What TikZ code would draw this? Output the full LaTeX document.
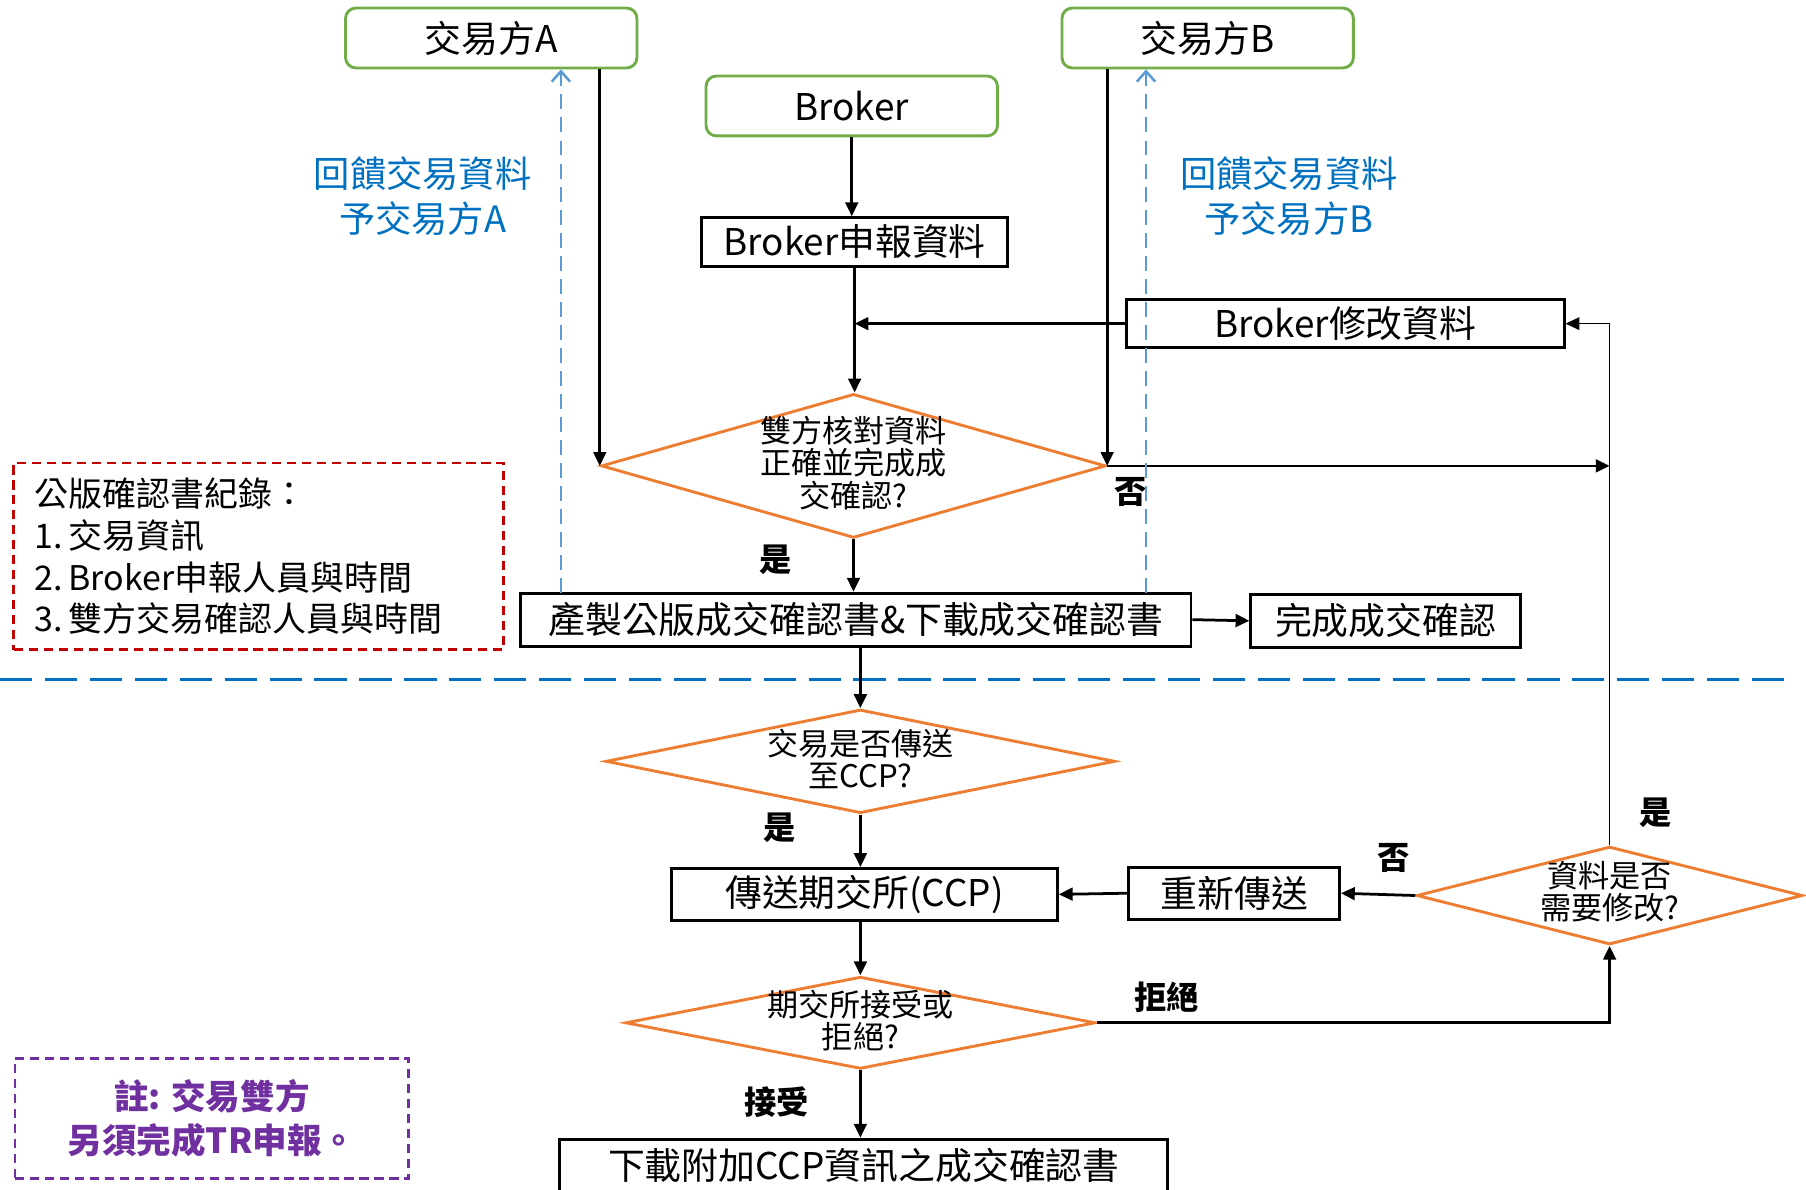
\documentclass[tikz,border=0pt]{standalone}
\usepackage{fontspec}
\setmainfont{Noto Sans CJK TC}
\usetikzlibrary{shapes.geometric,arrows.meta}

\definecolor{partygreen}{RGB}{112,173,71}
\definecolor{decorange}{RGB}{237,125,49}
\definecolor{fbblue}{RGB}{91,155,213}
\definecolor{fbtextblue}{RGB}{0,112,192}
\definecolor{recordred}{RGB}{192,0,0}
\definecolor{tippurple}{RGB}{112,48,160}

\begin{document}
\begin{tikzpicture}[x=1pt,y=-1pt,
    boxfont/.style={font=\fontsize{32}{38}\selectfont},
    party/.style={draw=partygreen,line width=2.5pt,rounded corners=9pt,
      minimum width=253pt,minimum height=52pt,inner sep=0pt,boxfont},
    stepbox/.style={draw,line width=2.5pt,inner sep=0pt,boxfont},
    decision/.style={diamond,draw=decorange,line width=2.5pt,inner sep=0pt},
    dtext/.style={align=center,font=\fontsize{27}{28}\selectfont},
    answer/.style={font=\bfseries\fontsize{28}{30}\selectfont},
    fbtext/.style={align=center,text=fbtextblue,font=\fontsize{31.5}{39}\selectfont},
    arr/.style={line width=2.4pt,-{Triangle[length=12pt,width=11pt]}},
    thinarr/.style={line width=1.2pt,-{Triangle[length=12pt,width=11pt]}},
    fb/.style={draw=fbblue,line width=2.2pt,dash pattern=on 13pt off 7pt,
      -{Straight Barb[length=9pt,width=16pt]}},
    divider/.style={draw=fbtextblue,line width=3pt,dash pattern=on 28pt off 11pt},
    recordbox/.style={draw=recordred,line width=2.5pt,dash pattern=on 8pt off 5pt,
      minimum width=425pt,minimum height=162pt,inner xsep=18pt,inner ysep=0pt,
      text width=389pt,align=left,font=\fontsize{29.5}{36.3}\selectfont},
    tipbox/.style={draw=tippurple,line width=2.5pt,dash pattern=on 8pt off 5pt,
      minimum width=342pt,minimum height=104pt,inner sep=0pt,align=center,
      text=tippurple,font=\bfseries\fontsize{30}{38}\selectfont}
  ]
  \useasboundingbox (0,0) rectangle (1568,1032.5);

  % top part
  \node[party] (partyA) at (426.5,33) {交易方A};
  \node[party] (partyB) at (1048.5,33) {交易方B};
  \node[party] (broker) at (739.5,92) {Broker};
  \node[stepbox,minimum width=266pt,minimum height=42pt] (report) at (742,210) {Broker申報資料};
  \node[stepbox,minimum width=380pt,minimum height=42pt] (modify) at (1168,281) {Broker修改資料};

  \node[decision,minimum width=438pt,minimum height=125pt] (check) at (741,404.5) {};
  \node[dtext] (checktext) at (741,402) {雙方核對資料\\正確並完成成\\交確認?};

  \node[stepbox,minimum width=582pt,minimum height=46pt] (make) at (743,538) {產製公版成交確認書\&下載成交確認書};
  \node[stepbox,minimum width=234pt,minimum height=46pt] (done) at (1203,539) {完成成交確認};

  \node[fbtext] (fbAtext) at (367,170.5) {回饋交易資料\\予交易方A};
  \node[fbtext] (fbBtext) at (1119,170.5) {回饋交易資料\\予交易方B};

  \node[recordbox] (record) at (224.5,483) {公版確認書紀錄：\\1.\hspace{5pt}交易資訊\\2.\hspace{5pt}Broker申報人員與時間\\3.\hspace{5pt}雙方交易確認人員與時間};

  \draw[divider] (0,590) -- (1552,590);

  % CCP part
  \node[decision,minimum width=442pt,minimum height=90pt] (toccp) at (747,661) {};
  \node[dtext] (toccptext) at (747,659) {交易是否傳送\\至CCP?};
  \node[stepbox,minimum width=335pt,minimum height=45pt] (send) at (750.5,776.5) {傳送期交所(CCP)};
  \node[stepbox,minimum width=183pt,minimum height=45pt] (resend) at (1071.5,775.5) {重新傳送};
  \node[decision,minimum width=335pt,minimum height=85pt] (modq) at (1397.5,777.5) {};
  \node[dtext] (modqtext) at (1397.5,774) {資料是否\\需要修改?};
  \node[decision,minimum width=408pt,minimum height=80pt] (accept) at (747,888) {};
  \node[dtext] (accepttext) at (747,886) {期交所接受或\\拒絕?};
  \node[stepbox,minimum width=528pt,minimum height=46pt] (dl) at (750,1012) {下載附加CCP資訊之成交確認書};

  \node[tipbox] (tip) at (184,971) {註: 交易雙方\\另須完成TR申報。};

  % answers
  \node[answer] (no1) at (982,427) {否};
  \node[answer] (yes1) at (673,486) {是};
  \node[answer] (yes2) at (677,719) {是};
  \node[answer] (no2) at (1210,745) {否};
  \node[answer] (yes3) at (1437,706) {是};
  \node[answer] (rejectlbl) at (1013,866) {拒絕};
  \node[answer] (acceptlbl) at (674,957) {接受};

  % connectors
  \draw[arr] (broker.south) -- (broker.south |- report.north);
  \draw[arr] (report.south) -- (report.south |- check.north);
  \draw[arr] (modify.west) -- (modify.west -| report.south);
  \draw[arr] (check.west |- partyA.south) -- (check.west);
  \draw[arr] (check.east |- partyB.south) -- (check.east);
  \draw[arr] (check.east) -- (check.east -| modq.north);
  \draw[thinarr] (modq.north) |- (modify.east);
  \draw[arr] (check.south) -- (check.south |- make.north);
  \draw[arr] (make.east) -- (done.west);
  \draw[arr] (toccp.north |- make.south) -- (toccp.north);
  \draw[arr] (toccp.south) -- (toccp.south |- send.north);
  \draw[arr] (accept.north |- send.south) -- (accept.north);
  \draw[arr] (accept.south) -- (accept.south |- dl.north);
  \draw[arr] (accept.east) -| (modq.south);
  \draw[arr] (modq.west) -- (resend.east);
  \draw[arr] (resend.west) -- (send.east);

  % feedback to both parties
  \coordinate (fbA) at (487,515);
  \coordinate (fbB) at (995,515);
  \draw[fb] (fbA) -- (fbA |- partyA.south);
  \draw[fb] (fbB) -- (fbB |- partyB.south);
\end{tikzpicture}
\end{document}
